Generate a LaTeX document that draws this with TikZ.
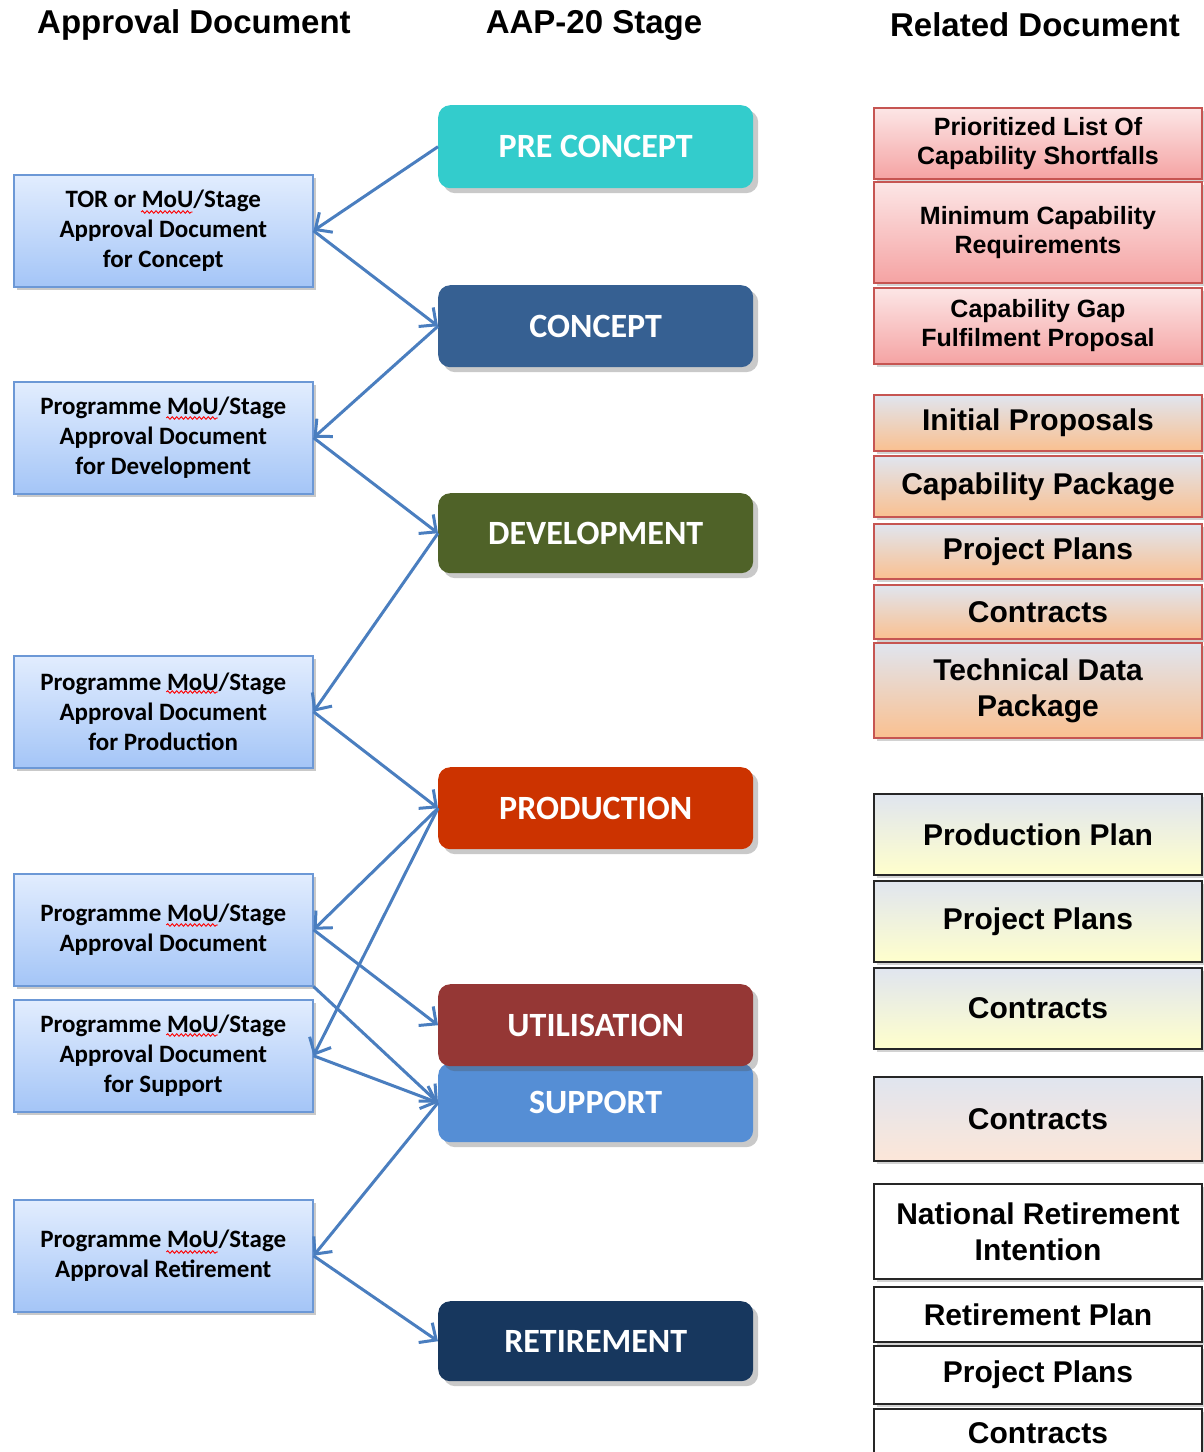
\documentclass[tikz,border=0pt]{standalone}
\usepackage{fontspec}
\usetikzlibrary{arrows.meta,shadows,decorations.pathmorphing}
\setmainfont{Liberation Sans}
\newfontfamily\carlito{Carlito}
\newcommand\apfont{\carlito\bfseries\fontsize{25}{30}\selectfont}
\newlength\wPreA \newlength\wPreB \newlength\wMoU \newlength\wLineA \newlength\wLineB
\definecolor{apborder}{HTML}{6C98D6}
\definecolor{aptop}{HTML}{E2EDFE}
\definecolor{apbot}{HTML}{A4C5F7}
\definecolor{arrowblue}{HTML}{4A7EBF}
\definecolor{cPre}{HTML}{33CCCC}
\definecolor{cCon}{HTML}{366092}
\definecolor{cDev}{HTML}{4F6228}
\definecolor{cPro}{HTML}{CC3300}
\definecolor{cUti}{HTML}{953735}
\definecolor{cSup}{HTML}{558ED5}
\definecolor{cRet}{HTML}{17375E}
\definecolor{redtop}{HTML}{FCE6E6}
\definecolor{redbot}{HTML}{F5A3A3}
\definecolor{redborder}{HTML}{C65552}
\definecolor{grtop}{HTML}{E0E5EF}
\definecolor{orbot}{HTML}{FAC090}
\definecolor{yebot}{HTML}{FFFFCC}
\definecolor{pebot}{HTML}{FCE6D8}
\tikzset{
  header/.style={font=\bfseries\fontsize{33}{38}\selectfont, inner sep=0pt},
  approval/.style={draw=apborder, line width=1.5pt, top color=aptop, bottom color=apbot,
    minimum width=299pt, minimum height=112pt, anchor=north west, inner sep=0pt,
    align=center, font=\apfont,
    drop shadow={shadow xshift=3pt, shadow yshift=-3pt, opacity=0.3, fill=black!70}},
  stagebox/.style={rounded corners=12pt, minimum width=315pt, anchor=north west,
    inner sep=0pt, text=white, font=\carlito\bfseries\fontsize{34}{40}\selectfont,
    drop shadow={shadow xshift=5pt, shadow yshift=-5pt, opacity=0.3, fill=black!70}},
  related/.style={minimum width=328pt, anchor=north west, inner sep=0pt, align=center,
    line width=2pt, font=\bfseries\fontsize{30}{36}\selectfont,
    drop shadow={shadow xshift=3pt, shadow yshift=-3pt, opacity=0.25, fill=black!70}},
  redbox/.style={related, draw=redborder, top color=redtop, bottom color=redbot,
    font=\bfseries\fontsize{25}{29}\selectfont},
  orbox/.style={related, draw=redborder, top color=grtop, bottom color=orbot},
  yebox/.style={related, draw=black!85, top color=grtop, bottom color=yebot},
  pebox/.style={related, draw=black!85, top color=grtop, bottom color=pebot},
  whbox/.style={related, draw=black!85, fill=white},
  conn/.style={draw=arrowblue, line width=3pt, -{Straight Barb[length=13pt,width=24pt]}},
  spell/.style={draw=red, line width=0.9pt, decorate, decoration={snake,amplitude=1.3pt,segment length=4.5pt}}
}
\begin{document}
\settowidth\wPreA{\apfont TOR or }
\settowidth\wPreB{\apfont Programme }
\settowidth\wMoU{\apfont MoU}
\settowidth\wLineA{\apfont TOR or MoU/Stage}
\settowidth\wLineB{\apfont Programme MoU/Stage}
\begin{tikzpicture}[x=1pt,y=-1pt]
\useasboundingbox (0,0) rectangle (1203,1452);

% headers
\node[header] (h1) at (194,25) {Approval Document};
\node[header] (h2) at (594,25) {AAP-20 Stage};
\node[header] (h3) at (1035,25) {Related Document};

% approval documents
\node[approval] (L1) at (13,174) {TOR or MoU/Stage\\Approval Document\\for Concept};
\node[approval] (L2) at (13,381) {Programme MoU/Stage\\Approval Document\\for Development};
\node[approval] (L3) at (13,655) {Programme MoU/Stage\\Approval Document\\for Production};
\node[approval] (L4) at (13,873) {Programme MoU/Stage\\Approval Document};
\node[approval] (L5) at (13,999) {Programme MoU/Stage\\Approval Document\\for Support};
\node[approval] (L6) at (13,1199) {Programme MoU/Stage\\Approval Retirement};

% spell-check marks under "MoU"
\pgfmathsetmacro\xa{162.5-0.5*\wLineA+\wPreA}
\pgfmathsetmacro\xb{162.5-0.5*\wLineB+\wPreB}
\pgfmathsetmacro\mw{\wMoU}
\draw[spell] (\xa,212) -- ++(\mw,0);
\draw[spell] (\xb,418) -- ++(\mw,0);
\draw[spell] (\xb,692) -- ++(\mw,0);
\draw[spell] (\xb,925) -- ++(\mw,0);
\draw[spell] (\xb,1035) -- ++(\mw,0);
\draw[spell] (\xb,1252) -- ++(\mw,0);

% stages
\node[stagebox, fill=cPre, minimum height=83pt] (S1) at (438,105) {PRE CONCEPT};
\node[stagebox, fill=cCon, minimum height=82pt] (S2) at (438,285) {CONCEPT};
\node[stagebox, fill=cDev, minimum height=80pt] (S3) at (438,493) {DEVELOPMENT};
\node[stagebox, fill=cPro, minimum height=82pt] (S4) at (438,767) {PRODUCTION};
\node[stagebox, fill=cSup, minimum height=79pt] (S6) at (438,1063) {SUPPORT};
\node[stagebox, fill=cUti, minimum height=82pt] (S5) at (438,984) {UTILISATION};
\node[stagebox, fill=cRet, minimum height=80pt] (S7) at (438,1301) {RETIREMENT};

% related documents
\node[redbox, minimum height=71pt] (R1) at (873,107) {Prioritized List Of\\Capability Shortfalls};
\node[redbox, minimum height=101pt] (R2) at (873,181) {Minimum Capability\\Requirements};
\node[redbox, minimum height=76pt] (R3) at (873,287) {Capability Gap\\Fulfilment Proposal};

\node[orbox, minimum height=56pt] (O1) at (873,394) {Initial Proposals};
\node[orbox, minimum height=61pt] (O2) at (873,455) {Capability Package};
\node[orbox, minimum height=55pt] (O3) at (873,523) {Project Plans};
\node[orbox, minimum height=54pt] (O4) at (873,584) {Contracts};
\node[orbox, minimum height=95pt] (O5) at (873,642) {Technical Data\\Package};

\node[yebox, minimum height=81pt] (Y1) at (873,793) {Production Plan};
\node[yebox, minimum height=81pt] (Y2) at (873,880) {Project Plans};
\node[yebox, minimum height=81pt] (Y3) at (873,967) {Contracts};
\node[pebox, minimum height=84pt] (P1) at (873,1076) {Contracts};

\node[whbox, minimum height=95pt] (W1) at (873,1183) {National Retirement\\Intention};
\node[whbox, minimum height=55pt] (W2) at (873,1286) {Retirement Plan};
\node[whbox, minimum height=58pt] (W3) at (873,1345) {Project Plans};
\node[whbox, minimum height=48pt] (W4) at (873,1408) {Contracts};

% connectors
\draw[conn] (S1.west) -- (L1.east);
\draw[conn] (L1.east) -- (S2.west);
\draw[conn] (S2.west) -- (L2.east);
\draw[conn] (L2.east) -- (S3.west);
\draw[conn] (S3.west) -- (L3.east);
\draw[conn] (L3.east) -- (S4.west);
\draw[conn] (S4.west) -- (L4.east);
\draw[conn] (S4.west) -- (L5.east);
\draw[conn] (L4.east) -- (S5.west);
\draw[conn] (L4.south east) -- (S6.west);
\draw[conn] (L5.east) -- (S6.west);
\draw[conn] (S6.west) -- (L6.east);
\draw[conn] (L6.east) -- (S7.west);
\end{tikzpicture}
\end{document}
